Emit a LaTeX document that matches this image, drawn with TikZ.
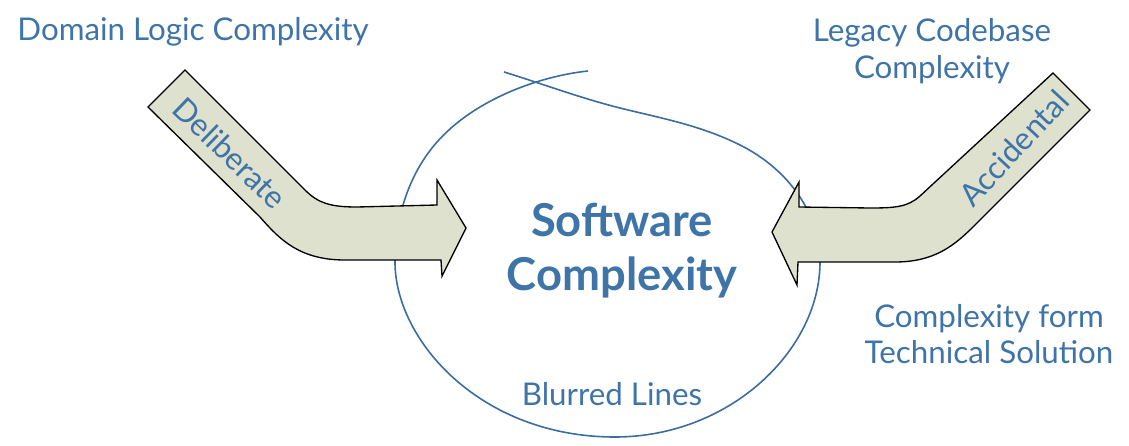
\documentclass[tikz,border=0pt]{standalone}
\usepackage{fontspec}
\setmainfont{Lato}
\definecolor{txt}{HTML}{3F74A8}
\definecolor{blobc}{HTML}{3B6E9E}
\definecolor{arrowfill}{HTML}{DEE1CD}
\begin{document}
\begin{tikzpicture}[x=0.75pt,y=-0.75pt,
  lbl/.style={text=txt,font=\fontsize{23.5}{27.5}\selectfont,align=center,inner sep=0pt},
  big/.style={text=txt,font=\fontsize{34}{40.5}\selectfont\bfseries,align=center,inner sep=0pt},
  bigarrow/.style={draw=black,line width=1pt,fill=arrowfill,line join=miter},
  blob/.style={draw=blobc,line width=1.2pt}]
\useasboundingbox (0,0) rectangle (1129,446);
% blob
\draw[blob] (588,71) .. controls (540,76) and (470,100) .. (432,148)
  .. controls (405,182) and (395,225) .. (395,262)
  .. controls (395,340) and (480,437) .. (615,437)
  .. controls (730,437) and (820,350) .. (820,262)
  .. controls (820,215) and (790,170) .. (740,145)
  .. controls (700,125) and (660,118) .. (620,108)
  .. controls (580,98) and (540,83) .. (504,72);
% left arrow
\draw[bigarrow] (148,107) -- (185,70) -- (305,190) .. controls (318,203) and (330,207) .. (357,207) -- (437,205) -- (437,180) -- (466,228) -- (442,276) -- (441,260) -- (345,260) .. controls (300,260) and (280,240) .. (260,217) -- cycle;
% right arrow
\draw[bigarrow] (1053,73) -- (1090,110) -- (975,225) .. controls (955,245) and (935,262) .. (895,262) -- (798,262) -- (797,285) -- (772,232) -- (799,182) -- (799,207) -- (870,208) .. controls (895,208) and (908,207) .. (920,196) -- cycle;
\node[lbl,rotate=-44] (delib) at (230,153) {Deliberate};
\node[lbl,rotate=47] (accid) at (1014,148) {Accidental};
\node[lbl] (domain) at (193,32) {Domain Logic Complexity};
\node[lbl] (legacy) at (932,51) {Legacy Codebase\\Complexity};
\node[lbl] (tech) at (989,334) {Complexity form\\Technical Solution};
\node[lbl] (blur) at (612,394) {Blurred Lines};
\node[big] (sw) at (622,251) {Software\\Complexity};
\end{tikzpicture}
\end{document}
